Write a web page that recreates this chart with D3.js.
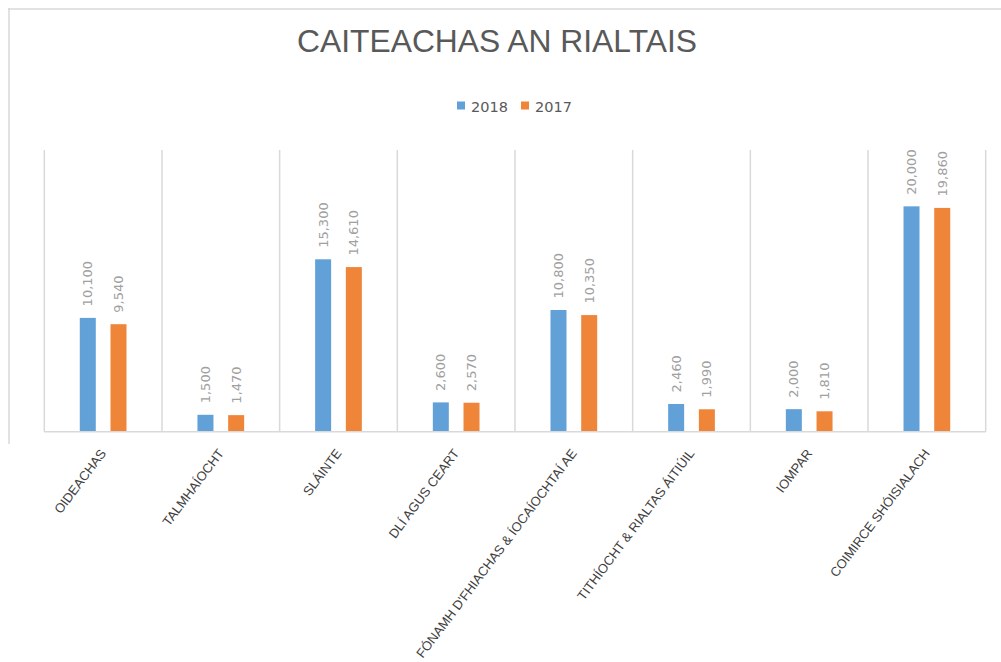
<!DOCTYPE html>
<html>
<head>
<meta charset="utf-8">
<script src="https://cdn.jsdelivr.net/npm/d3@7"></script>
<style>
    body { margin: 0; background: #fff; }
    svg { display: block; }
</style>
</head>
<body>
<div class="graph"></div>
<script>
// data
const categories = [
    "OIDEACHAS",
    "TALMHAÍOCHT",
    "SLÁINTE",
    "DLÍ AGUS CEART",
    "FÓNAMH D'FHIACHAS & ÍOCAÍOCHTAÍ AE",
    "TITHÍOCHT & RIALTAS ÁITIÚIL",
    "IOMPAR",
    "COIMIRCE SHÓISIALACH"
]
const seriesNames = ["2018", "2017"]
const values2018 = [10100, 1500, 15300, 2600, 10800, 2460, 2000, 20000]
const values2017 = [9540, 1470, 14610, 2570, 10350, 1990, 1810, 19860]
const yDomain = [0, 25000]

const colours = {
    "2018": "#62a0d8",
    "2017": "#ef8538",
    grid: "#d9d9d9",
    title: "#595959",
    label: "#a0a0a0",
    axis: "#404040"
}

// config
const w = 1001
const h = 662
const plot = {left: 44.3, right: 985.7, top: 150, bottom: 431.7}

const rows = categories.map((c, i) => ({
    name: c,
    "2018": values2018[i],
    "2017": values2017[i]
}))

const svg = d3.select('.graph')
    .append('svg')
    .attr('width', w)
    .attr('height', h)

// outer frame (only top and left edges visible)
svg.append('line')
    .attr('x1', 8).attr('x2', w).attr('y1', 9).attr('y2', 9)
    .attr('stroke', colours.grid).attr('stroke-width', 1.5)
svg.append('line')
    .attr('x1', 9).attr('x2', 9).attr('y1', 8).attr('y2', 444)
    .attr('stroke', colours.grid).attr('stroke-width', 1.5)

// scales
const x0 = d3.scaleBand()
    .domain(categories)
    .range([plot.left, plot.right])
    .padding(0)

const x1 = d3.scaleBand()
    .domain(seriesNames)
    .range([0, x0.bandwidth()])
    .paddingInner(0.479)
    .paddingOuter(1.156)

const y = d3.scaleLinear()
    .domain(yDomain)
    .range([plot.bottom, plot.top])

// title
svg.append('text')
    .attr('x', 497)
    .attr('y', 52)
    .attr('text-anchor', 'middle')
    .attr('font-family', 'Liberation Sans, Arial, sans-serif')
    .attr('font-size', 31.8)
    .attr('fill', colours.title)
    .text('CAITEACHAS AN RIALTAIS')

// legend
const legend = svg.append('g').attr('transform', 'translate(457,0)')
const legendX = d3.scaleOrdinal().domain(seriesNames).range([0, 64])
const lg = legend.selectAll('g.item')
    .data(seriesNames)
    .join('g')
    .attr('class', 'item')
    .attr('transform', d => 'translate(' + legendX(d) + ',0)')
lg.append('rect')
    .attr('x', 0).attr('y', 101.5)
    .attr('width', 8).attr('height', 8)
    .attr('fill', d => colours[d])
lg.append('text')
    .attr('x', 14).attr('y', 111.5)
    .attr('font-family', 'DejaVu Sans, sans-serif')
    .attr('font-size', 14.5)
    .attr('fill', colours.title)
    .text(d => d)

// gridlines at category boundaries
const bounds = categories.map(c => x0(c)).concat([plot.right])
svg.append('g')
    .selectAll('line')
    .data(bounds)
    .join('line')
    .attr('x1', d => d).attr('x2', d => d)
    .attr('y1', plot.top).attr('y2', plot.bottom)
    .attr('stroke', colours.grid).attr('stroke-width', 1.5)

// bars
const groups = svg.append('g')
    .selectAll('g.cat')
    .data(rows)
    .join('g')
    .attr('class', 'cat')
    .attr('transform', d => 'translate(' + x0(d.name) + ',0)')

groups.selectAll('rect')
    .data(d => seriesNames.map(s => ({key: s, value: d[s]})))
    .join('rect')
    .attr('x', d => x1(d.key))
    .attr('width', x1.bandwidth())
    .attr('y', d => y(d.value))
    .attr('height', d => y(0) - y(d.value))
    .attr('fill', d => colours[d.key])

// value labels
groups.selectAll('text.val')
    .data(d => seriesNames.map(s => ({key: s, value: d[s]})))
    .join('text')
    .attr('class', 'val')
    .attr('transform', d => 'translate(' + (x1(d.key) + x1.bandwidth() / 2) + ',' + (y(d.value) - 11.5) + ') rotate(-90)')
    .attr('dy', '0.35em')
    .attr('font-family', 'DejaVu Sans, sans-serif')
    .attr('font-size', 13)
    .attr('fill', colours.label)
    .text(d => d3.format(',')(d.value))

// baseline
svg.append('line')
    .attr('x1', plot.left).attr('x2', plot.right)
    .attr('y1', plot.bottom).attr('y2', plot.bottom)
    .attr('stroke', colours.grid).attr('stroke-width', 1.5)

// category labels
svg.append('g')
    .selectAll('text')
    .data(categories)
    .join('text')
    .attr('transform', d => 'translate(' + (x0(d) + x0.bandwidth() / 2) + ',' + (plot.bottom + 19) + ') rotate(-53)')
    .attr('text-anchor', 'end')
    .attr('dy', '0.35em')
    .attr('font-family', 'Liberation Sans, Arial, sans-serif')
    .attr('font-size', 13)
    .attr('fill', colours.axis)
    .text(d => d)
</script>
</body>
</html>
